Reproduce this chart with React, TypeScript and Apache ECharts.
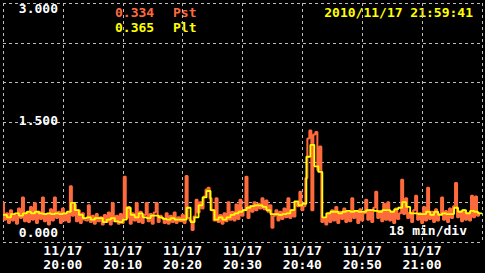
import React, { useEffect, useRef } from "react";
import * as echarts from "echarts";

// Pst samples, one every 20 s starting 19:50:00 (80 minutes shown)
const pst: number[] = [
  0.49, 0.28, 0.36, 0.24, 0.40, 0.27, 0.34, 0.23, 0.42, 0.30,
  0.56, 0.26, 0.37, 0.25, 0.44, 0.28, 0.49, 0.24, 0.38, 0.29,
  0.56, 0.26, 0.35, 0.22, 0.41, 0.27, 0.56, 0.30, 0.38, 0.24,
  0.42, 0.27, 0.36, 0.25, 0.70, 0.33, 0.47, 0.26, 0.40, 0.24,
  0.36, 0.28,
  0.27, 0.46, 0.25, 0.33, 0.23, 0.35, 0.26, 0.31, 0.22, 0.34,
  0.25, 0.37, 0.22, 0.49, 0.26, 0.33, 0.23, 0.35, 0.24, 0.82,
  0.30, 0.44, 0.23, 0.36, 0.27, 0.49, 0.25, 0.38, 0.24, 0.34,
  0.49, 0.26, 0.35, 0.23, 0.37, 0.49, 0.25, 0.33,
  0.30, 0.24, 0.36, 0.23, 0.33, 0.25, 0.37, 0.24, 0.31, 0.26,
  0.34, 0.24, 0.83, 0.30, 0.27, 0.15, 0.32, 0.53, 0.37, 0.50,
  0.42, 0.57, 0.66, 0.68, 0.55, 0.40, 0.27,
  0.55, 0.25, 0.34, 0.23, 0.36, 0.26, 0.50, 0.28, 0.38, 0.27, 0.47, 0.29, 0.53, 0.33, 0.40,
  0.82, 0.30, 0.45, 0.38, 0.50, 0.40, 0.48, 0.42, 0.55, 0.41,
  0.52, 0.38, 0.46, 0.18, 0.33, 0.40, 0.27, 0.38, 0.29, 0.42,
  0.31, 0.55, 0.30, 0.40, 0.32, 0.50, 0.45, 0.63, 0.40,
  0.45, 0.80, 1.30, 1.40, 0.40, 1.35, 1.38, 0.90, 1.20, 0.25, 0.30, 0.22,
  0.36, 0.25, 0.40, 0.27, 0.44, 0.24, 0.38, 0.29, 0.42, 0.25,
  0.37, 0.26, 0.55, 0.30, 0.39, 0.24, 0.41, 0.27, 0.36, 0.53,
  0.28, 0.40, 0.25, 0.43, 0.63, 0.30, 0.39, 0.26, 0.48, 0.28,
  0.50, 0.27, 0.38, 0.24, 0.42, 0.29, 0.36, 0.78, 0.35, 0.55,
  0.30, 0.37, 0.25, 0.40, 0.58, 0.28, 0.36, 0.24, 0.44, 0.27,
  0.68, 0.29, 0.38, 0.25, 0.41, 0.27, 0.35, 0.56, 0.28, 0.39,
  0.25, 0.42, 0.30, 0.45, 0.74, 0.31, 0.38, 0.26, 0.40, 0.28,
  0.36, 0.27, 0.58, 0.31, 0.57, 0.33, 0.36,
];

// Plt values, one every 40 s
const plt: number[] = [
  0.34, 0.31, 0.35, 0.36, 0.33, 0.36, 0.38, 0.36, 0.38, 0.36,
  0.35, 0.36, 0.35, 0.36, 0.35, 0.36, 0.38, 0.49, 0.40, 0.34,
  0.30, 0.31, 0.28, 0.30, 0.30, 0.25, 0.28, 0.30, 0.26, 0.25,
  0.28, 0.43, 0.34, 0.31, 0.36, 0.31, 0.30, 0.33, 0.33, 0.31,
  0.29, 0.28, 0.30, 0.28, 0.28, 0.28, 0.43, 0.25, 0.31, 0.46,
  0.56, 0.64, 0.40, 0.28, 0.31, 0.28, 0.31, 0.34, 0.36, 0.38,
  0.40, 0.43, 0.45, 0.46, 0.46, 0.44, 0.40, 0.35, 0.35, 0.34,
  0.35, 0.36, 0.40, 0.51, 0.46, 0.48, 1.07, 1.22, 0.95, 0.88,
  0.31, 0.36, 0.38, 0.38, 0.36, 0.38, 0.39, 0.38, 0.39, 0.38,
  0.38, 0.40, 0.40, 0.39, 0.38, 0.40, 0.40, 0.38, 0.41, 0.43,
  0.50, 0.44, 0.36, 0.36, 0.35, 0.35, 0.38, 0.34, 0.38, 0.34,
  0.36, 0.35, 0.35, 0.43, 0.38, 0.40, 0.36, 0.39, 0.38, 0.36,
];

const xTickMinutes = [10, 20, 30, 40, 50, 60, 70];
const xTickDates = ["11/17", "11/17", "11/17", "11/17", "11/17", "11/17", "11/17"];
const xTickTimes = ["20:00", "20:10", "20:20", "20:30", "20:40", "20:50", "21:00"];
const yTickValues = [0, 1.5, 3];
const yTickLabels = ["0.000", "1.500", "3.000"];
const pstNow = "0.334";
const pltNow = "0.365";
const stampText = "2010/11/17 21:59:41";
const scaleText = "18 min/div";

const ORANGE = "#FF6A3D";
const YELLOW = "#FFFF00";
const GRIDC = "#BDBDBD";
const FONT = '"DejaVu Sans Mono", "Liberation Mono", monospace';

export default function App() {
  const ref = useRef<HTMLDivElement>(null);
  useEffect(() => {
    if (!ref.current) return;
    const chart = echarts.init(ref.current, null, { renderer: "svg" });
    const pstData = pst.map((v, i) => [i / 3, v]);
    const pltData = plt.map((v, k) => [(2 * k) / 3, v]);
    pltData.push([80, plt[plt.length - 1]]);
    const font = "bold 13px " + FONT;
    const txt = (x: number, y: number, text: string, fill: string, align: string) => ({
      type: "text",
      x,
      y,
      silent: true,
      style: { text, fill, font, textAlign: align, textVerticalAlign: "middle" },
    });
    chart.setOption({
      animation: false,
      backgroundColor: "#000000",
      grid: { left: 3, top: 3, width: 480, height: 239, containLabel: false },
      xAxis: {
        type: "value",
        min: 0,
        max: 80,
        interval: 10,
        axisLine: { show: false },
        axisTick: { show: false },
        splitLine: { show: true, lineStyle: { color: GRIDC, type: [3, 3], width: 1 } },
        axisLabel: {
          show: true,
          margin: 1,
          color: "#FFFFFF",
          fontFamily: FONT,
          fontWeight: "bold",
          fontSize: 13,
          lineHeight: 14,
          formatter: (v: number) => {
            const i = xTickMinutes.indexOf(Math.round(v));
            return i < 0 ? "" : xTickDates[i] + "\n" + xTickTimes[i];
          },
        },
      },
      yAxis: {
        type: "value",
        min: 0,
        max: 3,
        interval: 0.5,
        axisLine: { show: false },
        axisTick: { show: false },
        splitLine: { show: true, lineStyle: { color: GRIDC, type: [3, 3], width: 1 } },
        axisLabel: {
          show: true,
          margin: -55,
          color: "#FFFFFF",
          fontFamily: FONT,
          fontWeight: "bold",
          fontSize: 13,
          formatter: (v: number) => {
            const i = yTickValues.indexOf(v);
            return i < 0 ? "" : "{y" + i + "|" + yTickLabels[i] + "}";
          },
          rich: {
            y0: { padding: [0, 0, 20, 0], color: "#FFFFFF", fontFamily: FONT, fontWeight: "bold", fontSize: 13 },
            y1: { padding: [0, 0, 5, 0], color: "#FFFFFF", fontFamily: FONT, fontWeight: "bold", fontSize: 13 },
            y2: { padding: [10, 0, 0, 0], color: "#FFFFFF", fontFamily: FONT, fontWeight: "bold", fontSize: 13 },
          },
        },
      },
      series: [
        {
          name: "Pst",
          type: "line",
          data: pstData,
          step: "middle",
          symbol: "none",
          lineStyle: { color: ORANGE, width: 2 },
          itemStyle: { color: ORANGE },
          z: 2,
        },
        {
          name: "Plt",
          type: "line",
          data: pltData,
          step: "end",
          symbol: "none",
          lineStyle: { color: YELLOW, width: 1.8 },
          itemStyle: { color: YELLOW },
          z: 3,
        },
      ],
      graphic: [
        txt(115, 12, pstNow, ORANGE, "left"),
        txt(173, 12, "Pst", ORANGE, "left"),
        txt(115, 27, pltNow, YELLOW, "left"),
        txt(173, 27, "Plt", YELLOW, "left"),
        txt(473, 12, stampText, YELLOW, "right"),
        txt(467, 230, scaleText, "#FFFFFF", "right"),
      ],
    });
    return () => chart.dispose();
  }, []);
  return (
    <div
      ref={ref}
      style={{ position: "fixed", left: 0, top: 0, width: 485, height: 273, background: "#000" }}
    />
  );
}
